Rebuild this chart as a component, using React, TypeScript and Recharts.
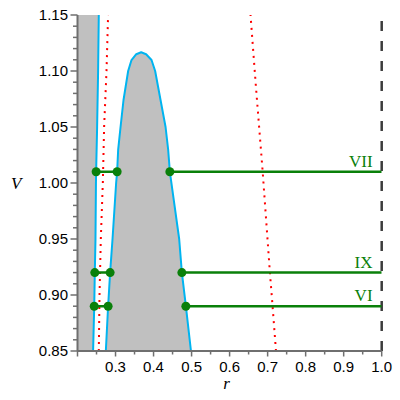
import React from 'react';
import { ComposedChart, Line, Area, XAxis, YAxis, ReferenceLine, ReferenceDot } from 'recharts';

// ---- axis ticks ----
const xAllTicks = [0.2, 0.25, 0.3, 0.35, 0.4, 0.45, 0.5, 0.55, 0.6, 0.65, 0.7, 0.75, 0.8, 0.85, 0.9, 0.95, 1.0];
const xLabeledTicks = [0.3, 0.4, 0.5, 0.6, 0.7, 0.8, 0.9, 1.0];
const xMajorTicks = [0.2, 0.3, 0.4, 0.5, 0.6, 0.7, 0.8, 0.9, 1.0];
const yAllTicks = [
  0.85, 0.86, 0.87, 0.88, 0.89, 0.9, 0.91, 0.92, 0.93, 0.94, 0.95, 0.96, 0.97, 0.98, 0.99, 1.0,
  1.01, 1.02, 1.03, 1.04, 1.05, 1.06, 1.07, 1.08, 1.09, 1.1, 1.11, 1.12, 1.13, 1.14, 1.15,
];
const yMajorTicks = [0.85, 0.9, 0.95, 1.0, 1.05, 1.1, 1.15];
const rDomain = [0.2, 1.0];
const vDomain = [0.85, 1.15];

// ---- left boundary curve (blue) ----
const leftCurveR = [0.241, 0.244, 0.2455, 0.2473, 0.2485, 0.249, 0.2516, 0.2542, 0.256];
const leftCurveV = [0.85, 0.89, 0.92, 0.95, 1.0, 1.01, 1.05, 1.1, 1.15];

// ---- hump curve (blue) ----
const humpR = [
  0.2745, 0.2805, 0.2858, 0.2921, 0.3016, 0.3042, 0.3069, 0.3132, 0.321, 0.3332, 0.342, 0.3545,
  0.3674,
  0.3805, 0.3947, 0.4042, 0.4184, 0.4316, 0.4385, 0.4429, 0.4674, 0.4745, 0.485, 0.4984,
];
const humpV = [
  0.85, 0.89, 0.92, 0.95, 1.0, 1.01, 1.0295, 1.05, 1.0741, 1.1, 1.1098, 1.115,
  1.1167,
  1.115, 1.1098, 1.1, 1.0741, 1.05, 1.0295, 1.01, 0.95, 0.92, 0.89, 0.85,
];

// ---- red dotted curves ----
const redLeftR = [0.256, 0.2579, 0.2613, 0.2666, 0.27, 0.2763, 0.2805];
const redLeftV = [0.85, 0.9, 0.95, 1.0, 1.05, 1.1, 1.15];
const redRightR = [0.722, 0.713, 0.706, 0.687, 0.669, 0.655];
const redRightV = [0.85, 0.89, 0.92, 1.01, 1.087, 1.15];

// ---- green level lines ----
const levels = [1.01, 0.92, 0.89];
const levelLabels = ['VII', 'IX', 'VI'];
const segLeftStart = [0.249, 0.2455, 0.244];
const segLeftEnd = [0.3042, 0.2858, 0.2805];
const segRightStart = [0.4429, 0.4745, 0.485];
const segRightEnd = 1.0;
const labelR = 0.976;

const AXIS = '#6f6f6f';
const BLUE = '#00b4f0';
const GRAY = '#c0c0c0';
const RED = '#ff0000';
const GREEN = '#0a800a';
const TICK_FONT = 'Liberation Sans, Arial, sans-serif';
const SERIF = 'Liberation Serif, Times New Roman, serif';

const leftCurveData = leftCurveR.map((r, i) => ({ r, v: leftCurveV[i] }));
const leftFillData = [{ r: rDomain[0], lo: vDomain[0], hi: vDomain[1] }].concat(
  leftCurveR.map((r, i) => ({ r, lo: leftCurveV[i], hi: vDomain[1] }))
);
const humpData = humpR.map((r, i) => ({ r, v: humpV[i] }));
const redLeftData = redLeftR.map((r, i) => ({ r, v: redLeftV[i] }));
const redRightData = redRightR.map((r, i) => ({ r, v: redRightV[i] }));
const levelData = levels.map((L, i) => [
  { r: segLeftStart[i], v: L, dot: true },
  { r: segLeftEnd[i], v: L, dot: true },
  { r: (segLeftEnd[i] + segRightStart[i]) / 2, v: null, dot: false },
  { r: segRightStart[i], v: L, dot: true },
  { r: segRightEnd, v: L, dot: false },
]);

const near = (arr: number[], v: number) => arr.some((t) => Math.abs(t - v) < 1e-6);

const XTick = (props: any) => {
  const { x, y, payload } = props;
  const v = payload.value;
  const major = near(xMajorTicks, v);
  return (
    <g>
      <line x1={x} x2={x} y1={y} y2={y + (major ? 5.5 : 3.5)} stroke={AXIS} strokeWidth={1.5} />
      {near(xLabeledTicks, v) && (
        <text x={x} y={y + 20.5} textAnchor="middle" fontFamily={TICK_FONT} fontSize={15} fill="#000">
          {v.toFixed(1)}
        </text>
      )}
    </g>
  );
};

const YTick = (props: any) => {
  const { x, y, payload } = props;
  const v = payload.value;
  const major = near(yMajorTicks, v);
  return (
    <g>
      <line x1={x - (major ? 7 : 4.5)} x2={x} y1={y} y2={y} stroke={AXIS} strokeWidth={1.5} />
      {major && (
        <text x={x - 9.5} y={y + 5.3} textAnchor="end" fontFamily={TICK_FONT} fontSize={15} fill="#000">
          {v.toFixed(2)}
        </text>
      )}
    </g>
  );
};

const greenDot = (props: any) => {
  const { cx, cy, payload, index } = props;
  if (!payload || !payload.dot || cy == null) return <g key={`d${index}`} />;
  return <circle key={`d${index}`} cx={cx} cy={cy} r={4.5} fill={GREEN} stroke="none" />;
};

export default function App() {
  return (
    <div style={{ position: 'absolute', left: 0, top: 0, width: 400, height: 400, background: '#fff' }}>
      <ComposedChart width={400} height={400} margin={{ top: 15, right: 18.3, left: 0, bottom: 0 }}>
        <XAxis
          dataKey="r"
          type="number"
          domain={rDomain}
          allowDataOverflow
          ticks={xAllTicks}
          interval={0}
          tickSize={0}
          tickMargin={0}
          tickLine={false}
          tick={<XTick />}
          height={49}
          axisLine={{ stroke: AXIS, strokeWidth: 2 }}
          label={{ value: 'r', position: 'insideBottom', offset: 11, dx: -3, fill: '#000', fontSize: 17, fontStyle: 'italic', fontFamily: SERIF }}
        />
        <YAxis
          type="number"
          domain={vDomain}
          allowDataOverflow
          ticks={yAllTicks}
          interval={0}
          tickSize={0}
          tickMargin={0}
          tickLine={false}
          tick={<YTick />}
          width={77.5}
          axisLine={{ stroke: AXIS, strokeWidth: 2 }}
          label={{ value: 'V', angle: 0, position: 'insideLeft', offset: 11, fill: '#000', fontSize: 17, fontStyle: 'italic', fontFamily: SERIF }}
        />
        <Area
          data={leftFillData}
          dataKey={(d: any) => [d.lo, d.hi]}
          type="linear"
          stroke="none"
          fill={GRAY}
          fillOpacity={1}
          isAnimationActive={false}
        />
        <Area
          data={humpData}
          dataKey="v"
          type="linear"
          baseValue="dataMin"
          stroke="none"
          fill={GRAY}
          fillOpacity={1}
          isAnimationActive={false}
        />
        <Line data={leftCurveData} dataKey="v" type="linear" stroke={BLUE} strokeWidth={2} dot={false} isAnimationActive={false} />
        <Line data={humpData} dataKey="v" type="linear" stroke={BLUE} strokeWidth={2} strokeLinejoin="round" dot={false} isAnimationActive={false} />
        <Line data={redLeftData} dataKey="v" type="linear" stroke={RED} strokeWidth={2} strokeDasharray="2 5" dot={false} isAnimationActive={false} />
        <Line data={redRightData} dataKey="v" type="linear" stroke={RED} strokeWidth={2} strokeDasharray="2 5" dot={false} isAnimationActive={false} />
        <ReferenceLine x={rDomain[1]} stroke="#3c3c3c" strokeWidth={2.5} strokeDasharray="10 10" />
        {levelData.map((d, i) => (
          <Line
            key={`lvl${i}`}
            data={d}
            dataKey="v"
            type="linear"
            stroke={GREEN}
            strokeWidth={2.5}
            connectNulls={false}
            dot={greenDot}
            activeDot={false}
            isAnimationActive={false}
          />
        ))}
        {levels.map((L, i) => (
          <ReferenceDot
            key={`lab${i}`}
            x={labelR}
            y={L}
            r={0}
            fill="none"
            stroke="none"
            label={(p: any) => (
              <text
                x={p.viewBox.x}
                y={p.viewBox.y - 5}
                textAnchor="end"
                fontFamily={SERIF}
                fontSize={17}
                fill={GREEN}
              >
                {levelLabels[i]}
              </text>
            )}
          />
        ))}
      </ComposedChart>
    </div>
  );
}
